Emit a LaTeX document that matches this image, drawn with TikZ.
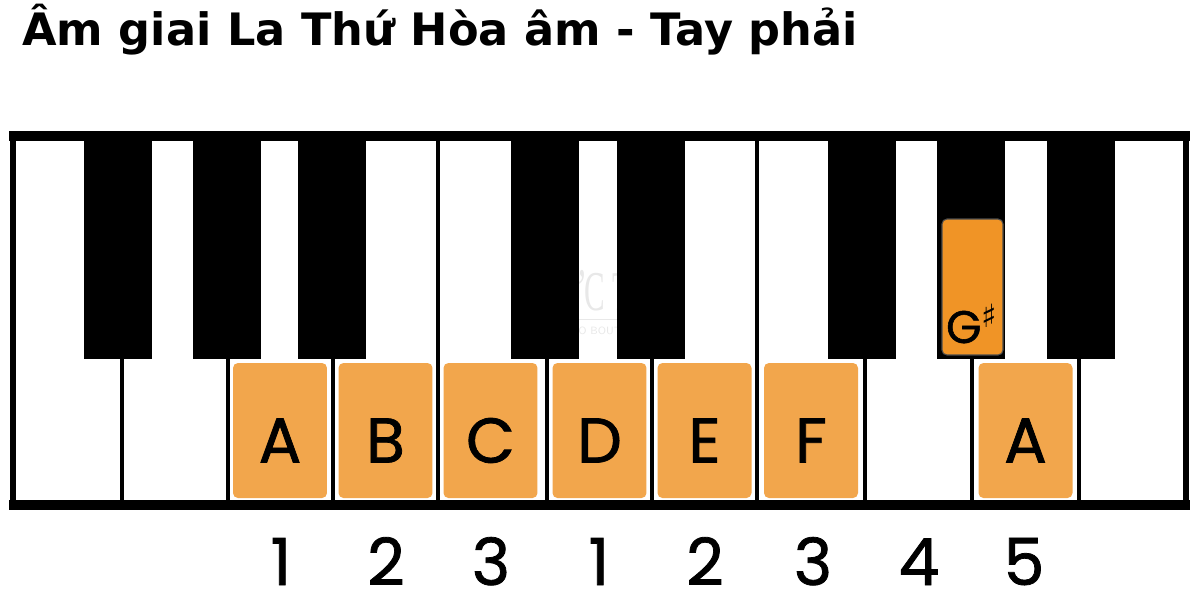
\documentclass[tikz,border=0pt]{standalone}
\usepackage{fontspec}
\setmainfont{DejaVu Sans}
\newfontfamily\keyfont{Poppins}[FakeBold=1.2]
\newfontfamily\markfont{Liberation Serif}
\usepackage{xcolor}
\definecolor{keyorange}{RGB}{242,166,76}
\definecolor{sharporange}{RGB}{240,148,38}
\usetikzlibrary{positioning}
\tikzset{
	keyline/.style = {draw=black, line width=2.3pt},
	blackkey/.style = {fill=black},
	keybar/.style = {fill=black},
	notebox/.style = {
			fill            = keyorange,
			rounded corners = 2.8pt,
			minimum width   = 1.88cm,
			minimum height  = 2.7cm,
			inner sep       = 0pt,
		},
	sharpbox/.style = {
			notebox,
			fill           = sharporange,
			draw           = black!70,
			line width     = 0.6pt,
			minimum width  = 1.22cm,
			minimum height = 2.72cm,
		},
	notename/.style = {font=\keyfont\fontsize{36}{36}\selectfont, inner sep=0pt},
	finger/.style = {font=\keyfont\fontsize{37}{37}\selectfont, inner sep=0pt, anchor=base},
}

\begin{document}
\begin{tikzpicture}[x=0.02cm,y=-0.02cm]
	\useasboundingbox[fill=white] (0,0) rectangle (1200,600);
	% title
	\node[anchor=base west, inner sep=0pt, font=\bfseries\fontsize{25.4}{25.4}\selectfont] (title) at (22,45) {Âm giai La Thứ Hòa âm - Tay phải};
	% white keys
	\foreach \x in {122,228,333,438,547,652,757,865,972,1079}
		\draw[keyline] (\x,141) -- (\x,500);
	% watermark
	\node[text=gray, opacity=0.18, font=\markfont\fontsize{32}{32}\selectfont, xscale=0.55, anchor=base] (mark) at (600,310) {ĐỨC TRÍ};
	\draw[gray, opacity=0.18, line width=0.5pt] (540,319) -- (660,319);
	\node[text=gray, opacity=0.18, font=\sffamily\fontsize{6}{6}\selectfont, anchor=base] (mark2) at (600,334) {PIANO BOUTIQUE};
	% black keys
	\foreach \x in {118,227,332,545,651,862,971,1081}
		\fill[blackkey] (\x-34,141) rectangle (\x+34,359);
	% frame
	\fill[keybar] (9,131) rectangle (1190,141);
	\fill[keybar] (9,500) rectangle (1190,510);
	\fill[keybar] (10,131) rectangle (16,510);
	\fill[keybar] (1183,131) rectangle (1189,510);
	% scale notes
	\node[notebox] (nA) at (280,430.5) {};
	\node[notebox] (nB) at (385.5,430.5) {};
	\node[notebox] (nC) at (490.5,430.5) {};
	\node[notebox] (nD) at (599.5,430.5) {};
	\node[notebox] (nE) at (704.5,430.5) {};
	\node[notebox] (nF) at (811,430.5) {};
	\node[notebox] (nA2) at (1025.5,430.5) {};
	\node[sharpbox] (nGis) at (972.5,287) {};
	\node[notename] (lA) at ([yshift=-0.2cm]nA.center) {A};
	\node[notename] (lB) at ([yshift=-0.2cm]nB.center) {B};
	\node[notename] (lC) at ([yshift=-0.2cm]nC.center) {C};
	\node[notename] (lD) at ([yshift=-0.2cm]nD.center) {D};
	\node[notename] (lE) at ([yshift=-0.2cm]nE.center) {E};
	\node[notename] (lF) at ([yshift=-0.2cm]nF.center) {F};
	\node[notename] (lA2) at ([yshift=-0.2cm]nA2.center) {A};
	\node[font=\keyfont\fontsize{26}{26}\selectfont, inner sep=0pt, anchor=base] (lGis) at (972,343) {G\textsuperscript{\rmfamily\bfseries ♯}};
	% fingering
	\node[finger] (f1) at (281,585) {1};
	\node[finger] (f2) at (386,585) {2};
	\node[finger] (f3) at (491,585) {3};
	\node[finger] (f4) at (599,585) {1};
	\node[finger] (f5) at (705,585) {2};
	\node[finger] (f6) at (813,585) {3};
	\node[finger] (f7) at (919,585) {4};
	\node[finger] (f8) at (1024,585) {5};
\end{tikzpicture}
\end{document}
